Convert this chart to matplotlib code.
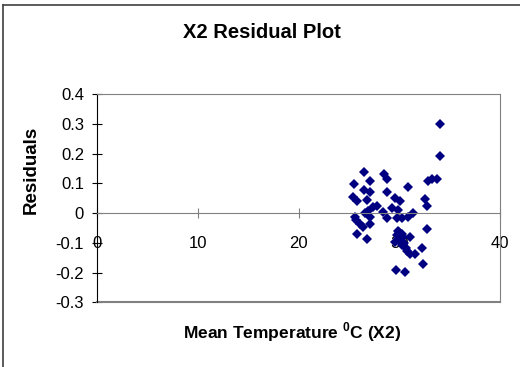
import matplotlib
matplotlib.use("Agg")
import matplotlib.pyplot as plt
from matplotlib.lines import Line2D

# Mean temperature (X2) and residuals
temp = [34.03, 34.03, 32.87, 33.20, 33.70, 26.51, 28.47, 28.80, 25.49, 27.08,
        30.82, 26.51, 27.08, 28.80, 32.54, 32.71, 25.36, 25.76, 26.81, 29.56,
        30.06, 27.75, 27.41, 26.91, 29.24, 29.89, 28.40, 31.38, 25.60, 25.70,
        26.59, 27.08, 28.74, 29.73, 30.23, 30.88, 26.06, 26.40, 27.08, 32.71,
        25.76, 26.81, 29.89, 30.23, 31.05, 29.56, 30.23, 30.72, 31.05, 31.55,
        32.21, 32.37, 29.66, 30.56, 30.40, 29.95, 30.10, 30.50, 29.80, 30.70]
resid = [0.300, 0.191, 0.109, 0.115, 0.113, 0.139, 0.132, 0.115, 0.098, 0.109,
         0.086, 0.078, 0.072, 0.070, 0.048, 0.025, 0.053, 0.042, 0.044, 0.051,
         0.042, 0.025, 0.019, 0.008, 0.016, 0.011, 0.003, -0.001, -0.012, -0.023,
         -0.001, -0.012, -0.016, -0.016, -0.016, -0.014, -0.036, -0.048, -0.036, -0.055,
         -0.072, -0.087, -0.059, -0.070, -0.081, -0.098, -0.109, -0.126, -0.137, -0.139,
         -0.117, -0.171, -0.191, -0.198, -0.080, -0.065, -0.090, -0.100, -0.075, -0.118]

x_ticks = [0, 10, 20, 30, 40]
y_ticks = [-0.3, -0.2, -0.1, 0, 0.1, 0.2, 0.3, 0.4]

plt.rcParams['font.family'] = ['Liberation Sans', 'DejaVu Sans']

fig = plt.figure(figsize=(5.2, 3.67), dpi=100)
ax = fig.add_axes([0.187, 0.1763, 0.7745, 0.5676])

ax.plot(temp, resid, linestyle='none', marker='D', markersize=5.5,
        color='#000080', markeredgewidth=0)

ax.set_xlim(0, 40)
ax.set_ylim(-0.3, 0.4)
ax.set_xticks(x_ticks)
ax.set_yticks(y_ticks)
ax.set_xticklabels([str(v) for v in x_ticks])
ax.set_yticklabels(['0' if v == 0 else f'{v:g}' for v in y_ticks])

# x axis crosses at zero, plot area border in grey
ax.spines['bottom'].set_position(('data', 0))
ax.spines['bottom'].set_color('#808080')
ax.spines['top'].set_color('#808080')
ax.spines['right'].set_color('#808080')
ax.spines['left'].set_color('black')
ax.axhline(-0.3, color='#808080', linewidth=1.5, clip_on=False)

ax.tick_params(axis='y', direction='inout', length=7, width=0.8, pad=6, labelsize=12)
ax.tick_params(axis='x', direction='inout', length=7, width=0.8, pad=13, labelsize=12,
               color='#808080')

fig.text(262 / 520, 1 - 32 / 367, 'X2 Residual Plot', fontsize=14.5, fontweight='bold',
         ha='center', va='center')
fig.text(31 / 520, 1 - 170 / 367, 'Residuals', fontsize=13.5, fontweight='bold',
         rotation=90, ha='center', va='center')
fig.text(292 / 520, 1 - 332 / 367, r'Mean Temperature $^{\mathregular{0}}$C (X2)',
         fontsize=12.5, fontweight='bold', ha='center', va='center')

# outer chart frame, cut off at the right and bottom
fig.add_artist(Line2D([3 / 520, 1], [1 - 5 / 367, 1 - 5 / 367], color='#404040', linewidth=1.2))
fig.add_artist(Line2D([3 / 520, 3 / 520], [0, 1 - 5 / 367], color='#404040', linewidth=1.2))

fig.savefig('out.png', dpi=100)
